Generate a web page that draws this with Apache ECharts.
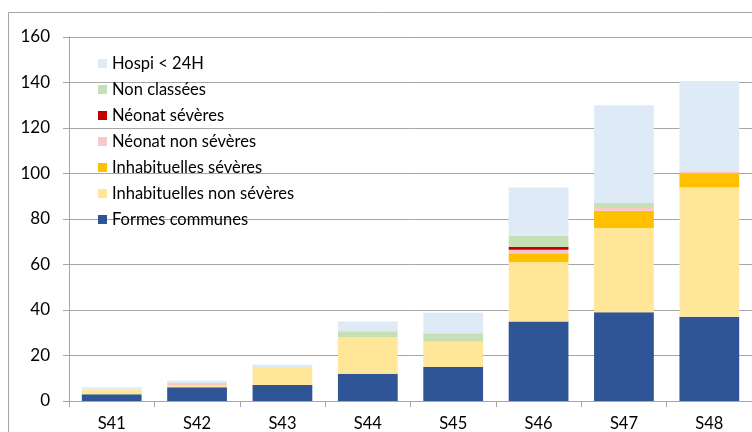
<!DOCTYPE html>
<html>
<head>
<meta charset="utf-8">
<script src="https://cdn.jsdelivr.net/npm/echarts@6/dist/echarts.min.js"></script>
<style>html,body{margin:0;padding:0;background:#fff}#c{width:752px;height:432px}</style>
</head>
<body>
<div id="c"></div>
<script>
const categories = ['S41','S42','S43','S44','S45','S46','S47','S48'];
const formesCommunes = [3, 6, 7, 12, 15, 35, 39, 37];
const inhabNonSeveres = [2, 0.7, 8, 16, 11, 26, 37, 57];
const inhabSeveres = [0, 0, 0, 0, 0, 4, 7.6, 6];
const neonatNonSeveres = [0, 1.2, 0, 0, 0, 1.5, 1.2, 0.7];
const neonatSeveres = [0, 0, 0, 0, 0, 1.3, 0, 0];
const nonClassees = [0, 0, 0, 2.7, 3.8, 4.8, 2.2, 0];
const hospi24 = [1, 1, 1, 4.2, 9, 21.2, 43, 40];
const yTicks = [0, 20, 40, 60, 80, 100, 120, 140, 160];

const seriesDefs = [
  ['Formes communes', formesCommunes, '#2F5597'],
  ['Inhabituelles non sévères', inhabNonSeveres, '#FFE699'],
  ['Inhabituelles sévères', inhabSeveres, '#FFC000'],
  ['Néonat non sévères', neonatNonSeveres, '#FAC8C8'],
  ['Néonat sévères', neonatSeveres, '#C00000'],
  ['Non classées', nonClassees, '#C5E0B4'],
  ['Hospi < 24H', hospi24, '#DEEBF7']
];

const chart = echarts.init(document.getElementById('c'), null, {renderer: 'canvas'});
const font = 'Lato, "Open Sans", sans-serif';
chart.setOption({
  animation: false,
  backgroundColor: '#fff',
  graphic: [{
    type: 'rect', silent: true, z: -1,
    shape: {x: 8.5, y: 12.5, width: 800, height: 500},
    style: {fill: 'none', stroke: '#A6A6A6', lineWidth: 1}
  }],
  grid: {left: 69, right: -5, top: 37, bottom: 28, containLabel: false},
  legend: {
    orient: 'vertical', left: 93, top: 50,
    icon: 'rect', itemWidth: 9, itemHeight: 9, itemGap: 9,
    textStyle: {fontFamily: font, fontSize: 16.5, color: '#000', lineHeight: 16},
    data: seriesDefs.map(s => s[0]).reverse()
  },
  xAxis: {
    type: 'category', data: categories,
    axisLine: {lineStyle: {color: '#A6A6A6', width: 1}},
    axisTick: {show: true, length: 6, lineStyle: {color: '#A6A6A6'}},
    axisLabel: {fontFamily: font, fontSize: 16.5, color: '#000', margin: 14}
  },
  yAxis: {
    type: 'value', min: 0, max: 160, interval: 20,
    axisLine: {show: true, lineStyle: {color: '#A6A6A6', width: 1}},
    axisTick: {show: true, length: 6, lineStyle: {color: '#A6A6A6'}},
    splitLine: {lineStyle: {color: '#A6A6A6', width: 1}},
    axisLabel: {fontFamily: font, fontSize: 17, color: '#000', margin: 19,
      formatter: v => yTicks.includes(v) ? String(v) : ''}
  },
  series: seriesDefs.map(([name, data, color]) => ({
    name, type: 'bar', stack: 'total', data,
    barCategoryGap: '30%',
    itemStyle: {color},
    emphasis: {disabled: true}
  }))
});
</script>
</body>
</html>
